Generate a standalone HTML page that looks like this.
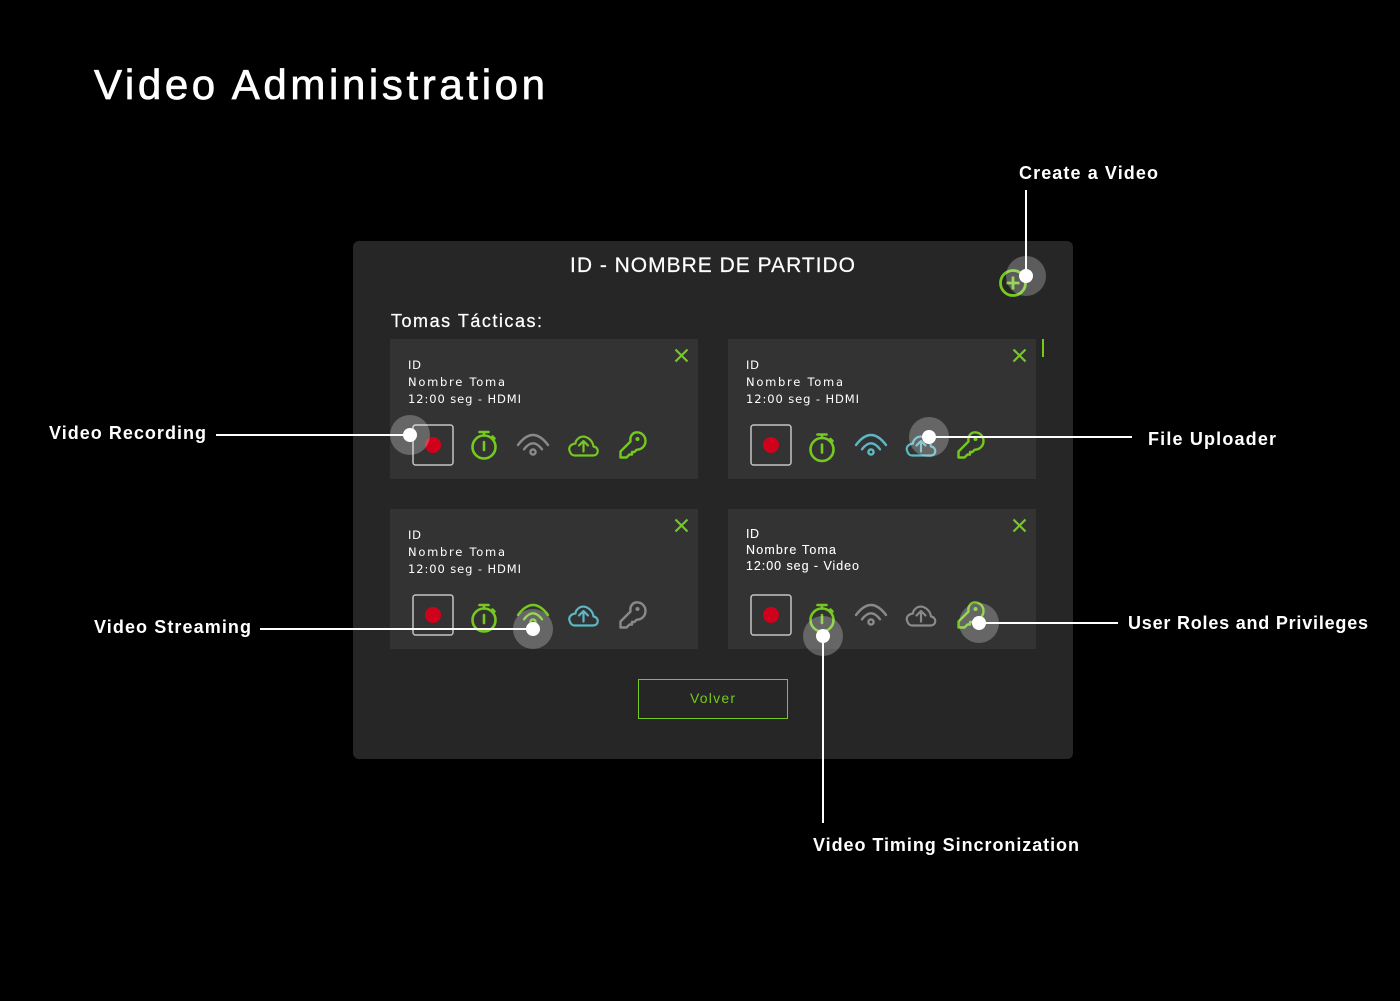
<!DOCTYPE html>
<html><head><meta charset="utf-8"><style>html,body{margin:0;padding:0;background:#000}svg{display:block}text{font-family:"Liberation Sans",sans-serif;fill:#fff}</style></head><body>
<svg width="1400" height="1001" viewBox="0 0 1400 1001" xmlns="http://www.w3.org/2000/svg">
<defs>
<g id="sw" fill="none" stroke="currentColor" stroke-width="2.600"><circle r="11.500"/><path d="M0-5V3M0-15V-11.500M-4.500-15H4.500M8.500-10.500L10.500-8.500" stroke-linecap="round"/></g>
<g id="wf" fill="none" stroke="currentColor" stroke-width="2.400" stroke-linecap="round"><path d="M-15-7Q0-27 15-7M-9-2.700Q0-14.700 9-2.700"/><circle r="2.600"/></g>
<g id="cl" fill="none" stroke="currentColor" stroke-width="2.200" stroke-linejoin="round" stroke-linecap="round"><path d="M-9 10H9.500C15.500 10 16 2 10 1C9-6 2-11-4-8C-7-6-8-4-8-2C-13-1.500-15 2-14 5C-13 8.500-11 10-9 10Z"/><path d="M0 6V-4M-4.500 0L0-4.500L4.500 0"/></g>
<g id="ky" fill="none" stroke="currentColor" stroke-width="2.400" stroke-linejoin="round"><path d="M-12.500 12.500V6.500L-2.500-3.500C-3.500-9 0-12.700 4-12.700C9-12.700 12.500-8.500 12.500-4C12.500 1 8.500 4.800 3.500 4.800L1.500 7H-1V9.500H-3.500L-6.500 12.500Z"/><circle cx="4.500" cy="-6" r="2" fill="currentColor" stroke="none"/></g>
<g id="cx" stroke="#75c91f" stroke-width="2.200" fill="none"><path d="M-6-6L6 6M6-6L-6 6"/></g>
<g id="rc"><rect x="-20" y="-20" width="40" height="40" rx="2.500" fill="none" stroke="#c4c4c4" stroke-width="1.500"/><circle r="8" fill="#d0021b"/></g>
</defs>
<rect width="1400" height="1001" fill="#000"/>
<text x="94" y="99" font-size="42" stroke="#fff" stroke-width=".7" textLength="451" lengthAdjust="spacing">Video Administration</text>
<rect x="353" y="241" width="720" height="518" rx="6" fill="#262626"/>
<text x="570" y="272" font-size="21" stroke="#fff" stroke-width=".2" textLength="285" lengthAdjust="spacing">ID - NOMBRE DE PARTIDO</text>
<text x="391" y="327" font-size="18" stroke="#fff" stroke-width=".25" textLength="151" lengthAdjust="spacing">Tomas Tácticas:</text>
<rect x="390" y="339" width="308" height="140" fill="#333"/>
<rect x="728" y="339" width="308" height="140" fill="#333"/>
<rect x="390" y="509" width="308" height="140" fill="#333"/>
<rect x="728" y="509" width="308" height="140" fill="#333"/>
<rect x="1042" y="339" width="2" height="18" fill="#75c91f"/>
<use href="#cx" x="681.500" y="355.500"/><use href="#cx" x="1019.500" y="355.500"/><use href="#cx" x="681.500" y="525.500"/><use href="#cx" x="1019.500" y="525.500"/>
<g font-size="11.500">
<text style="font-family:'DejaVu Sans',sans-serif" x="408" y="369" textLength="13">ID</text><text style="font-family:'DejaVu Sans',sans-serif" x="408" y="386" textLength="97">Nombre Toma</text><text style="font-family:'DejaVu Sans',sans-serif" x="408" y="403" textLength="113">12:00 seg - HDMI</text>
<text style="font-family:'DejaVu Sans',sans-serif" x="746" y="369" textLength="13">ID</text><text style="font-family:'DejaVu Sans',sans-serif" x="746" y="386" textLength="97">Nombre Toma</text><text style="font-family:'DejaVu Sans',sans-serif" x="746" y="403" textLength="113">12:00 seg - HDMI</text>
<text style="font-family:'DejaVu Sans',sans-serif" x="408" y="539" textLength="13">ID</text><text style="font-family:'DejaVu Sans',sans-serif" x="408" y="556" textLength="97">Nombre Toma</text><text style="font-family:'DejaVu Sans',sans-serif" x="408" y="573" textLength="113">12:00 seg - HDMI</text>
</g>
<g font-size="12.500" stroke="#fff" stroke-width=".1">
<text x="746" y="538" textLength="13">ID</text><text x="746" y="554" textLength="90">Nombre Toma</text><text x="746" y="570" textLength="113">12:00 seg - Video</text>
</g>
<use href="#rc" x="433" y="445"/><use href="#rc" x="771" y="445"/><use href="#rc" x="433" y="615"/><use href="#rc" x="771" y="615"/>
<use href="#sw" x="484" y="447" color="#75c91f"/><use href="#wf" x="533" y="452" color="#8a8a8a"/><use href="#cl" x="583.500" y="445.500" color="#75c91f"/><use href="#ky" x="633" y="445" color="#75c91f"/>
<use href="#sw" x="822" y="449.500" color="#75c91f"/><use href="#wf" x="871" y="452" color="#5cb8c4"/><use href="#cl" x="921" y="445.500" color="#5cb8c4"/><use href="#ky" x="971" y="445" color="#75c91f"/>
<use href="#sw" x="484" y="620" color="#75c91f"/><use href="#wf" x="533" y="622" color="#75c91f"/><use href="#cl" x="583.500" y="615.500" color="#5cb8c4"/><use href="#ky" x="633" y="615" color="#8a8a8a"/>
<use href="#sw" x="822" y="620" color="#75c91f"/><use href="#wf" x="871" y="622" color="#8a8a8a"/><use href="#cl" x="921" y="615.500" color="#8a8a8a"/><use href="#ky" x="971" y="615" color="#75c91f"/>
<rect x="638.500" y="679.500" width="149" height="39" fill="none" stroke="#75c91f" stroke-width="1"/>
<text x="690" y="703" font-size="14" textLength="45" style="fill:#75c91f">Volver</text>
<circle cx="1013" cy="283" r="12.500" fill="none" stroke="#75c91f" stroke-width="2.800"/>
<path d="M1013 276.500V289.500M1006.500 283H1019.500" stroke="#75c91f" stroke-width="2.800"/>
<g fill="#fff" fill-opacity=".25"><circle cx="410" cy="435" r="20"/><circle cx="929" cy="437" r="20"/><circle cx="533" cy="629" r="20"/><circle cx="823" cy="636" r="20"/><circle cx="979" cy="623" r="20"/><circle cx="1026" cy="276" r="20"/></g>
<g stroke="#fff" stroke-width="2" fill="none"><path d="M216 435H410M929 437H1132M260 629H533M979 623H1118M823 636V823M1026 190V276"/></g>
<g fill="#fff"><circle cx="410" cy="435" r="7"/><circle cx="929" cy="437" r="7"/><circle cx="533" cy="629" r="7"/><circle cx="823" cy="636" r="7"/><circle cx="979" cy="623" r="7"/><circle cx="1026" cy="276" r="7"/></g>
<g font-size="18" font-weight="700">
<text x="1019" y="179" textLength="139">Create a Video</text>
<text x="49" y="439" textLength="157">Video Recording</text>
<text x="1148" y="445" textLength="128">File Uploader</text>
<text x="94" y="633" textLength="157">Video Streaming</text>
<text x="1128" y="629" textLength="240">User Roles and Privileges</text>
<text x="813" y="851" textLength="266">Video Timing Sincronization</text>
</g>
</svg>
</body></html>
